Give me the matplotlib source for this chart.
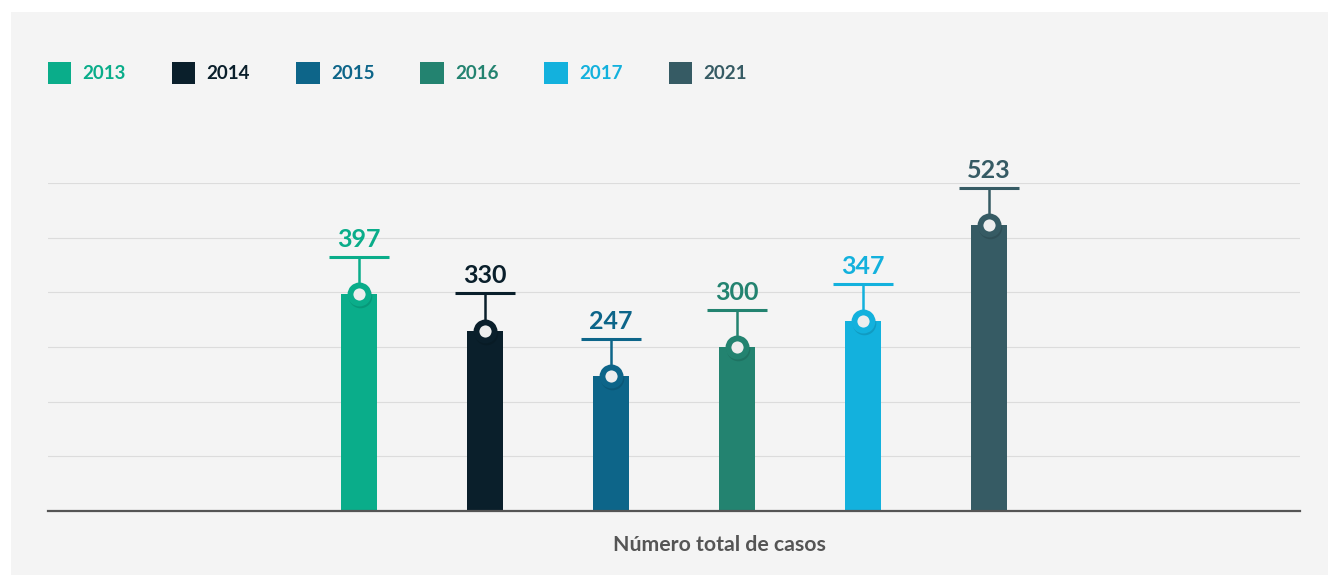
import matplotlib.pyplot as plt
from matplotlib.patches import Patch
import numpy as np

plt.rcParams['font.family'] = ['Lato', 'DejaVu Sans']

# Data
years = ['2013', '2014', '2015', '2016', '2017', '2021']
casos = [397, 330, 247, 300, 347, 523]
colors = ['#0aad8a', '#0a1f2b', '#0d6589', '#238370', '#13b1dd', '#365b64']

fig = plt.figure(figsize=(13.28, 5.75), dpi=100, facecolor='white')

# grey panel behind everything
fig.patches.append(plt.Rectangle((11 / 1328, 0), 1, 1 - 12 / 575,
                                 transform=fig.transFigure, facecolor='#f4f4f4',
                                 edgecolor='none', zorder=-10))

ax = fig.add_axes([48 / 1328, 1 - 511 / 575, 1252 / 1328, (511 - 183) / 575])
ax.set_facecolor('none')

x = np.arange(len(years))
half = 1252 / 126 / 2
ax.set_xlim(2.5 - half, 2.5 + half)
ax.set_ylim(0, 600)

ax.bar(x, casos, width=0.28, color=colors, zorder=3)

stem = 68
for xi, v, c in zip(x, casos, colors):
    ax.plot([xi, xi], [v, v + stem], color=c, lw=1.8, zorder=4, solid_capstyle='butt')
    ax.plot([xi - 0.24, xi + 0.24], [v + stem, v + stem], color=c, lw=2.2, zorder=4,
            solid_capstyle='butt')
    # soft shadow under the marker
    ax.plot(xi, v, marker='o', ms=17, mew=0, mfc='black', alpha=0.12, zorder=5,
            transform=ax.transData + plt.matplotlib.transforms.ScaledTranslation(
                1 / 100, -2 / 100, fig.dpi_scale_trans))
    ax.plot(xi, v, marker='o', ms=13, mew=4.2, mfc='#eeeeee', mec=c, zorder=6)
    ax.annotate(str(v), (xi, v + stem), xytext=(0, 4.5), textcoords='offset points',
                ha='center', va='bottom', fontsize=18, fontweight='bold', color=c)

# grid and axes
ax.set_yticks(np.arange(100, 601, 100))
ax.yaxis.grid(True, color='#dcdcdc', lw=0.8, zorder=0)
ax.tick_params(left=False, labelleft=False, bottom=False, labelbottom=False)
for s in ['top', 'left', 'right']:
    ax.spines[s].set_visible(False)
ax.spines['bottom'].set_color('#555555')
ax.spines['bottom'].set_linewidth(1.6)
ax.spines['bottom'].set_zorder(6)
ax.set_xlabel('Número total de casos', fontsize=15.3, fontweight='bold',
              color='#555555')
ax.xaxis.set_label_coords((719 - 48) / 1252, -(545 - 511) / (511 - 183), transform=ax.transAxes)
ax.xaxis.label.set_va('center')

# legend
handles = [Patch(facecolor=c, edgecolor='none') for c in colors]
leg = fig.legend(handles, years, loc='center left', bbox_to_anchor=(48 / 1328, 1 - 73 / 575),
                 ncol=6, frameon=False, handlelength=1.25, handleheight=1.35,
                 handletextpad=0.6, columnspacing=2.45, borderaxespad=0, borderpad=0,
                 prop={'weight': 'bold', 'size': 13.5})
for t, c in zip(leg.get_texts(), colors):
    t.set_color(c)

plt.savefig('out.png', dpi=100, facecolor='white')
